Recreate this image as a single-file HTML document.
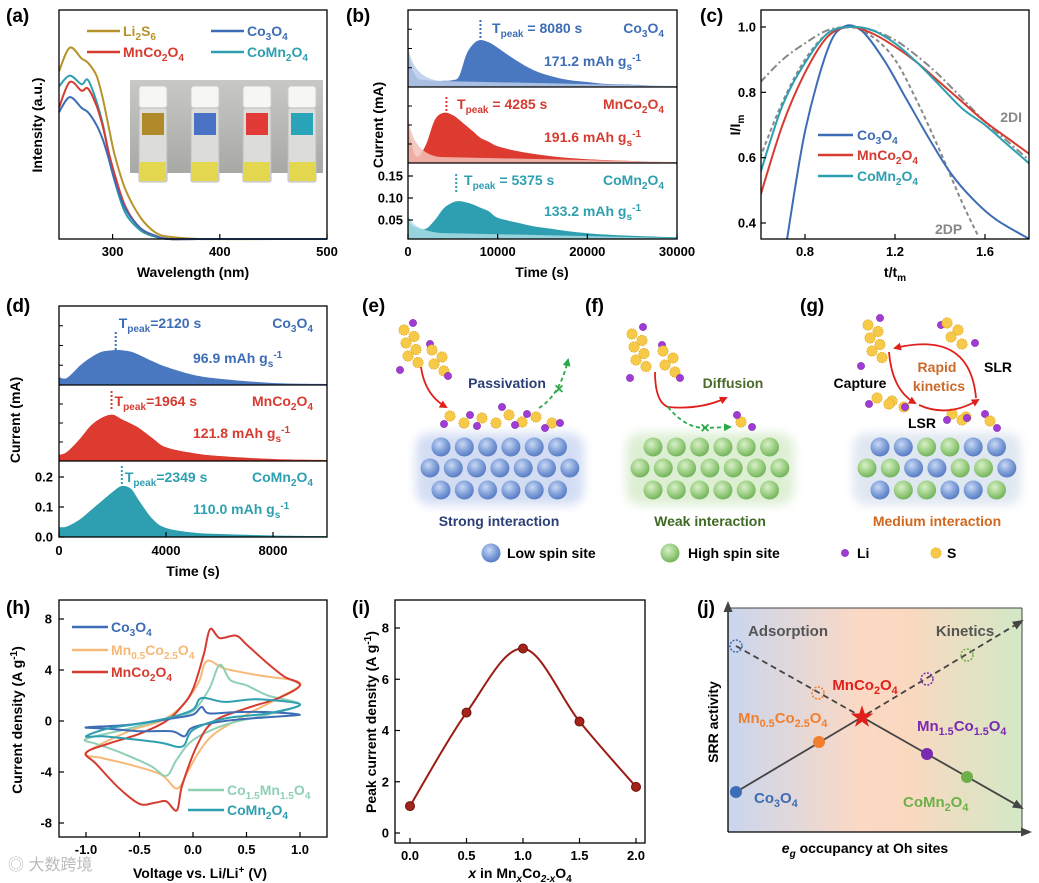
<!DOCTYPE html>
<html><head><meta charset="utf-8">
<style>
html,body{margin:0;padding:0;background:#fff;}
svg{display:block;}
</style></head>
<body>
<svg id="fig" width="1039" height="883" viewBox="0 0 1039 883" xmlns="http://www.w3.org/2000/svg">
<defs>
<radialGradient id="gBlue" cx="40%" cy="35%" r="65%"><stop offset="0" stop-color="#c9d8f5"/><stop offset="0.6" stop-color="#7f9fd8"/><stop offset="1" stop-color="#5a7cc4"/></radialGradient>
<radialGradient id="gGreen" cx="40%" cy="35%" r="65%"><stop offset="0" stop-color="#d8efc8"/><stop offset="0.6" stop-color="#9bcf83"/><stop offset="1" stop-color="#74b35c"/></radialGradient>
<filter id="blur"><feGaussianBlur stdDeviation="5"/></filter>
<linearGradient id="jbg" x1="0" x2="1" y1="0" y2="0"><stop offset="0" stop-color="#c9d6ee"/><stop offset="0.45" stop-color="#fbd9c4"/><stop offset="0.6" stop-color="#fbd8c0"/><stop offset="1" stop-color="#d3e8c6"/></linearGradient>
<linearGradient id="photo" x1="0" x2="0" y1="0" y2="1"><stop offset="0" stop-color="#c8c8c6"/><stop offset="1" stop-color="#a8a8a4"/></linearGradient>
<marker id="arrR" markerUnits="userSpaceOnUse" markerWidth="8" markerHeight="8" refX="6" refY="4" orient="auto"><path d="M0,0 L8,4 L0,8 Z" fill="#e0201b"/></marker>
<marker id="arrG" markerUnits="userSpaceOnUse" markerWidth="8" markerHeight="8" refX="6" refY="4" orient="auto"><path d="M0,0 L8,4 L0,8 Z" fill="#2aa84a"/></marker>
<marker id="arrK" markerUnits="userSpaceOnUse" markerWidth="11" markerHeight="9" refX="9" refY="4.5" orient="auto"><path d="M0,0 L11,4.5 L0,9 Z" fill="#444"/></marker>
</defs>
</svg>
<script>
// ---------------- DATA ----------------
// Panel (a) UV-vis
const aWavelengths=[250,260,271,277,285,291,296,302,312,326,340,353,381,450,500];
const aLi2S6=[0.78,0.89,0.84,0.82,0.76,0.65,0.53,0.39,0.23,0.10,0.03,0.01,0,0,0];
const aCoMn2O4=[0.71,0.76,0.72,0.74,0.64,0.53,0.41,0.27,0.12,0.04,0.01,0,0,0,0];
const aMnCo2O4=[0.61,0.73,0.69,0.70,0.62,0.52,0.41,0.30,0.15,0.05,0.015,0,0,0,0];
const aCo3O4=[0.59,0.66,0.61,0.59,0.53,0.46,0.38,0.27,0.14,0.05,0.015,0,0,0,0];
const aXTicks=[300,400,500];
// Panel (b)
const bTimes=[0,300,1000,2000,3000,4000,5000,5700,6500,7300,8080,9000,10000,12000,14000,16000,18000,20000,22000,25000,28000,30000];
const bCo3O4=[0.545,0.30,0.12,0.09,0.08,0.08,0.09,0.14,0.42,0.56,0.61,0.58,0.51,0.35,0.22,0.14,0.09,0.065,0.04,0.03,0.013,0.013];
const bMnCo2O4=[0.63,0.30,0.08,0.24,0.57,0.66,0.63,0.57,0.49,0.41,0.33,0.28,0.22,0.16,0.12,0.09,0.066,0.05,0.04,0.026,0.013,0.013];
const bCoMn2O4=[0.061,0.04,0.032,0.03,0.05,0.077,0.09,0.093,0.09,0.085,0.078,0.07,0.055,0.045,0.036,0.03,0.024,0.02,0.017,0.014,0.012,0.011];
const bXTicks=[0,10000,20000,30000];
const bYTicks=[0.05,0.10,0.15];
// Panel (c)
const cTBlue=[0.72,0.8,0.9,0.97,1.05,1.15,1.25,1.35,1.45,1.55,1.65,1.8];
const cBlue=[0.35,0.68,0.93,1.0,0.99,0.90,0.78,0.66,0.55,0.47,0.41,0.35];
const cT=[0.6,0.7,0.8,0.9,1.0,1.1,1.2,1.3,1.4,1.5,1.6,1.7,1.8];
const cRed=[0.48,0.70,0.86,0.97,1.0,0.98,0.94,0.89,0.83,0.77,0.71,0.66,0.61];
const cTeal=[0.55,0.76,0.89,0.98,1.0,0.99,0.95,0.89,0.82,0.75,0.70,0.64,0.58];
const c2DI=[0.83,0.90,0.95,0.99,1.0,0.99,0.96,0.91,0.85,0.78,0.71,0.65,0.59];
const cT2DP=[0.6,0.7,0.8,0.9,1.0,1.1,1.2,1.3,1.4,1.5,1.57];
const c2DP=[0.60,0.77,0.90,0.98,1.0,0.97,0.90,0.77,0.62,0.46,0.36];
const cXTicks=[0.8,1.2,1.6];
const cYTicks=[0.4,0.6,0.8,1.0];
// Panel (d)
const dTimes=[0,300,800,1200,1600,2000,2349,2700,3000,3500,4000,5000,6000,8000,10000];
const dCo3O4=[0.10,0.09,0.25,0.35,0.42,0.44,0.44,0.42,0.38,0.30,0.23,0.13,0.08,0.025,0.013];
const dMnCo2O4=[0.08,0.12,0.30,0.47,0.57,0.61,0.55,0.49,0.43,0.30,0.18,0.105,0.066,0.026,0.013];
const dCoMn2O4=[0.033,0.035,0.06,0.09,0.12,0.15,0.17,0.16,0.12,0.06,0.03,0.015,0.01,0.005,0.003];
const dXTicks=[0,4000,8000];
const dYTicks=[0.0,0.1,0.2];
// Panel (h) CV loops
const hMnCo2O4V=[-1,-0.8,-0.5,-0.25,-0.1,0,0.1,0.16,0.25,0.4,0.5,0.7,0.85,1.0,0.8,0.5,0.2,0.05,-0.1,-0.15,-0.25,-0.35,-0.5,-0.7,-0.9];
const hMnCo2O4I=[-2.5,-1.8,-1.0,0,1.2,2.5,5.2,7.2,6.5,6.7,6.0,4.5,3.5,2.8,1.8,1.0,0,-1.7,-5,-7,-6.3,-6.4,-6.5,-5.2,-3.4];
const hMn05V=[-1,-0.6,-0.3,-0.1,0.05,0.13,0.3,0.6,1.0,0.8,0.5,0.2,0.05,-0.05,-0.15,-0.3,-0.6,-0.85];
const hMn05I=[-2.5,-0.8,0,1.2,3,4.7,4.1,3.6,3.0,1.8,0.5,-1,-2.5,-4,-5.3,-4.2,-3.4,-2.9];
const hCo15V=[-1,-0.6,-0.2,0,0.15,0.25,0.35,0.5,0.7,1.0,0.7,0.3,0,-0.15,-0.25,-0.4,-0.7,-0.9];
const hCo15I=[-1.4,-0.6,0.3,0.8,2.5,4.4,3.2,2.8,2,1.3,0.5,-0.3,-1.5,-3,-4.3,-3.5,-2.4,-1.8];
const hCoMn2O4V=[-1,-0.8,-0.5,-0.2,0,0.08,0.3,0.6,1.0,0.7,0.3,0,-0.1,-0.3,-0.6,-0.85];
const hCoMn2O4I=[-1.2,-0.6,-0.2,0.3,0.9,1.8,1.5,1.7,1.3,0.6,0.2,-0.7,-2,-1.7,-1.4,-1.2];
const hCo3O4V=[-1,-0.6,-0.2,0,0.08,0.15,0.4,0.7,1.0,0.7,0.3,0,-0.08,-0.2,-0.5,-0.8];
const hCo3O4I=[-0.5,-0.3,0.2,0.5,1.1,0.6,0.7,0.7,0.5,0.3,0,-0.5,-1.2,-0.8,-0.8,-0.6];
const hXTicks=[-1.0,-0.5,0.0,0.5,1.0];
const hYTicks=[-8,-4,0,4,8];
// Panel (i)
const iX=[0,0.5,1.0,1.5,2.0];
const iY=[1.05,4.7,7.2,4.35,1.8];
const iXTicks=[0.0,0.5,1.0,1.5,2.0];
const iYTicks=[0,2,4,6,8];

// ---------------- HELPERS ----------------
const NS='http://www.w3.org/2000/svg';
const svg=document.getElementById('fig');
const FONT='"Liberation Sans", "Noto Sans CJK SC", Arial, sans-serif';
function mk(tag,attrs,name,parent){
  const e=document.createElementNS(NS,tag);
  for(const k in attrs) e.setAttribute(k,attrs[k]);
  
  
  (parent||svg).appendChild(e);
  return e;
}
function rich(t,s){
  const re=/([_^])\{([^}]*)\}/g; let last=0,m,pend=0;
  function add(str,dy,small){const ts=document.createElementNS(NS,'tspan'); if(dy) ts.setAttribute('dy',dy); if(small) ts.setAttribute('font-size','0.72em'); ts.textContent=str; t.appendChild(ts);}
  while((m=re.exec(s))){
    if(m.index>last){add(s.slice(last,m.index),pend,false);pend=0;}
    const d=m[1]==='_'?4:-5;
    add(m[2],d+pend,true); pend=-d;
    last=re.lastIndex;
  }
  if(last<s.length) add(s.slice(last),pend,false);
}
function txt(x,y,s,opt,name){
  const t=mk('text',Object.assign({x:x,y:y,'font-family':FONT,'font-weight':'bold','font-size':13,fill:'#000'},opt||{}),name);
  rich(t,s); return t;
}
function lin(d0,d1,r0,r1){return v=>r0+(v-d0)*(r1-r0)/(d1-d0);}
function smooth(pts,closed){
  const n=pts.length; let d='M'+pts[0][0].toFixed(1)+','+pts[0][1].toFixed(1);
  const get=i=>closed?pts[(i+n)%n]:pts[Math.max(0,Math.min(n-1,i))];
  const segs=closed?n:n-1;
  for(let i=0;i<segs;i++){
    const p0=get(i-1),p1=get(i),p2=get(i+1),p3=get(i+2);
    const c1=[p1[0]+(p2[0]-p0[0])/6,p1[1]+(p2[1]-p0[1])/6];
    const c2=[p2[0]-(p3[0]-p1[0])/6,p2[1]-(p3[1]-p1[1])/6];
    d+='C'+c1[0].toFixed(1)+','+c1[1].toFixed(1)+' '+c2[0].toFixed(1)+','+c2[1].toFixed(1)+' '+p2[0].toFixed(1)+','+p2[1].toFixed(1);
  }
  return d+(closed?'Z':'');
}
function frame(x0,y0,x1,y1,name){return mk('rect',{x:x0,y:y0,width:x1-x0,height:y1-y0,fill:'none',stroke:'#000','stroke-width':1.3},name);}
function xticks(ticks,sx,y,labelY,fmt,name){
  ticks.forEach(v=>{const x=sx(v);
    mk('line',{x1:x,x2:x,y1:y,y2:y-5,stroke:'#000','stroke-width':1.2},name+'-tick');
    txt(x,labelY,fmt(v),{'text-anchor':'middle'},name+'-label');});
}
function yticks(ticks,sy,x,labelX,fmt,name){
  ticks.forEach(v=>{const y=sy(v);
    mk('line',{x1:x,x2:x+5,y1:y,y2:y,stroke:'#000','stroke-width':1.2},name+'-tick');
    txt(labelX,y+4.5,fmt(v),{'text-anchor':'end'},name+'-label');});
}
function ytitle(x,y,s,name){txt(x,y,s,{'text-anchor':'middle','font-size':14,transform:'rotate(-90 '+x+' '+y+')'},name);}
function panelLabel(x,y,s){txt(x,y,s,{'font-size':19},'panel-label-'+s.replace(/[()]/g,''));}

// ---------------- PANEL (a) ----------------
(function(){
  const sx=lin(250,500,59,327), sy=lin(0,1,239,24);
  panelLabel(6,22,'(a)');
  const inset=mk('g',{},'vial-photo-inset');
  mk('rect',{x:130,y:80,width:193,height:93,fill:'url(#photo)'},'photo-background',inset);
  const vialX=[153,205,257,302], vialC=['#b08a2a','#4a72c4','#e23a36','#2aa4b8'];
  vialX.forEach((cx,i)=>{
    mk('rect',{x:cx-14,y:86,width:28,height:22,rx:3,fill:'#f6f6f4',stroke:'#ccc'},'vial-cap',inset);
    mk('rect',{x:cx-14,y:108,width:28,height:74,rx:2,fill:'#dcdcd8',stroke:'#bbb'},'vial-glass',inset);
    mk('rect',{x:cx-11,y:113,width:22,height:22,fill:vialC[i]},'vial-label-color',inset);
    mk('rect',{x:cx-13,y:162,width:26,height:19,fill:'#e3d640',opacity:0.9},'vial-liquid',inset);
  });
  const series=[[aLi2S6,'#b8922b','li2s6'],[aCoMn2O4,'#2e9fb0','comn2o4'],[aMnCo2O4,'#d63b30','mnco2o4'],[aCo3O4,'#3d6db5','co3o4']];
  series.forEach(s=>{const pts=aWavelengths.map((w,i)=>[sx(w),sy(s[0][i])]);
    mk('path',{d:smooth(pts),fill:'none',stroke:s[1],'stroke-width':2},'line-a-'+s[2]);});
  frame(59,10,327,239,'plot-frame-a');
  xticks(aXTicks,sx,239,256,v=>String(v),'x-tick-a');
  txt(193,277,'Wavelength (nm)',{'text-anchor':'middle','font-size':14},'x-axis-title-a');
  ytitle(42,125,'Intensity (a.u.)','y-axis-title-a');
  const leg=[[87,36,'#b8922b','Li_{2}S_{6}'],[87,57,'#d63b30','MnCo_{2}O_{4}'],[211,36,'#3d6db5','Co_{3}O_{4}'],[211,57,'#2e9fb0','CoMn_{2}O_{4}']];
  leg.forEach(l=>{mk('line',{x1:l[0],x2:l[0]+33,y1:l[1]-5,y2:l[1]-5,stroke:l[2],'stroke-width':2.5},'legend-line-a');
    txt(l[0]+36,l[1],l[3],{fill:l[2],'font-size':14},'legend-entry-a');});
})();

// ---------------- PANEL (b) ----------------
(function(){
  const sx=lin(0,30000,408,677);
  panelLabel(346,22,'(b)');
  const subs=[[10,87,bCo3O4,'#4a78c0','#b9cbe8','co3o4',null],[87,163,bMnCo2O4,'#dd3b2f','#f2c2b8','mnco2o4',null],[163,239,bCoMn2O4,'#2e9fb0','#a9dce4','comn2o4',lin(0,0.1,242,198)]];
  subs.forEach(s=>{
    const sy=s[6]||lin(0,1,s[1],s[0]);
    const pts=bTimes.map((t,i)=>[sx(t),sy(s[2][i])]);
    const d=smooth(pts)+'L'+sx(30000)+','+s[1]+'L'+sx(0)+','+s[1]+'Z';
    mk('path',{d:d,fill:s[3]},'area-b-'+s[5]);
    const y0=sy(s[2][0]);
    mk('path',{d:'M408,'+y0+' Q412,'+(s[1]-9)+' 440,'+(s[1]-6)+' L677,'+(s[1]-1)+' L677,'+s[1]+' L408,'+s[1]+'Z',fill:s[4],opacity:0.85},'baseline-band-b');
    [0.25,0.5,0.75].forEach(f=>{if(!s[6]) mk('line',{x1:408,x2:412,y1:s[1]-(s[1]-s[0])*f,y2:s[1]-(s[1]-s[0])*f,stroke:'#000'},'minor-tick-b');});
  });
  mk('line',{x1:408,x2:677,y1:87,y2:87,stroke:'#000','stroke-width':1.2},'divider-b');
  mk('line',{x1:408,x2:677,y1:163,y2:163,stroke:'#000','stroke-width':1.2},'divider-b');
  frame(408,10,677,239,'plot-frame-b');
  const syB=lin(0,0.1,242,198);
  yticks(bYTicks,syB,408,403,v=>v.toFixed(2),'y-tick-b');
  xticks(bXTicks,sx,239,256,v=>String(v),'x-tick-b');
  txt(542,277,'Time (s)',{'text-anchor':'middle','font-size':14},'x-axis-title-b');
  ytitle(383,125,'Current (mA)','y-axis-title-b');
  const ann=[[8080,20,'#3d6db5','T_{peak} = 8080 s','Co_{3}O_{4}','171.2 mAh g_{s}^{-1}',33,66,492],[4285,97,'#d63b30','T_{peak} = 4285 s','MnCo_{2}O_{4}','191.6 mAh g_{s}^{-1}',109,142,457],[5375,174,'#2e9fb0','T_{peak} = 5375 s','CoMn_{2}O_{4}','133.2 mAh g_{s}^{-1}',185,216,464]];
  ann.forEach(a=>{const x=sx(a[0]);
    mk('line',{x1:x,x2:x,y1:a[1],y2:a[1]+18,stroke:a[2],'stroke-width':2,'stroke-dasharray':'2,2'},'peak-marker-b');
    txt(a[8],a[6],a[3],{fill:a[2],'font-size':14},'peak-time-label-b');
    txt(664,a[6],a[4],{fill:a[2],'font-size':14,'text-anchor':'end'},'sample-label-b');
    txt(544,a[7],a[5],{fill:a[2],'font-size':14},'capacity-label-b');});
})();

// ---------------- PANEL (c) ----------------
(function(){
  const sx=lin(0.8,1.6,805,985), sy=lin(0.4,1.0,223,27);
  panelLabel(700,22,'(c)');
  const cp=mk('clipPath',{id:'clipc'},'clip-c'); mk('rect',{x:761,y:10,width:268,height:229},'clip-rect-c',cp);
  const g=mk('g',{'clip-path':'url(#clipc)'},'curves-c');
  mk('path',{d:smooth(cT.map((t,i)=>[sx(t),sy(c2DI[i])])),fill:'none',stroke:'#888','stroke-width':2,'stroke-dasharray':'8,3,2,3'},'line-c-2di',g);
  mk('path',{d:smooth(cT2DP.map((t,i)=>[sx(t),sy(c2DP[i])])),fill:'none',stroke:'#888','stroke-width':2,'stroke-dasharray':'4,3'},'line-c-2dp',g);
  mk('path',{d:smooth(cTBlue.map((t,i)=>[sx(t),sy(cBlue[i])])),fill:'none',stroke:'#3d6db5','stroke-width':2},'line-c-co3o4',g);
  mk('path',{d:smooth(cT.map((t,i)=>[sx(t),sy(cRed[i])])),fill:'none',stroke:'#d63b30','stroke-width':2},'line-c-mnco2o4',g);
  mk('path',{d:smooth(cT.map((t,i)=>[sx(t),sy(cTeal[i])])),fill:'none',stroke:'#2e9fb0','stroke-width':2},'line-c-comn2o4',g);
  frame(761,10,1029,239,'plot-frame-c');
  yticks(cYTicks,sy,761,756,v=>v.toFixed(1),'y-tick-c');
  xticks(cXTicks,sx,239,256,v=>v.toFixed(1),'x-tick-c');
  txt(895,277,'t/t_{m}',{'text-anchor':'middle','font-size':14},'x-axis-title-c');
  ytitle(740,125,'I/I_{m}','y-axis-title-c');
  txt(1022,122,'2DI',{fill:'#888','font-size':14,'text-anchor':'end'},'label-2di');
  txt(935,234,'2DP',{fill:'#888','font-size':14},'label-2dp');
  [[140,'#3d6db5','Co_{3}O_{4}'],[160,'#d63b30','MnCo_{2}O_{4}'],[181,'#2e9fb0','CoMn_{2}O_{4}']].forEach(l=>{
    mk('line',{x1:818,x2:853,y1:l[0]-5,y2:l[0]-5,stroke:l[1],'stroke-width':2.5},'legend-line-c');
    txt(857,l[0],l[2],{fill:l[1],'font-size':14},'legend-entry-c');});
})();

// ---------------- PANEL (d) ----------------
(function(){
  const sx=lin(0,8000,59,273);
  panelLabel(6,312,'(d)');
  const subs=[[306,385,dCo3O4,'#4a78c0','co3o4',null],[385,461,dMnCo2O4,'#dd3b2f','mnco2o4',null],[461,537,dCoMn2O4,'#2e9fb0','comn2o4',lin(0,0.1,537,507)]];
  subs.forEach(s=>{
    const sy=s[5]||lin(0,1,s[1],s[0]);
    const pts=dTimes.map((t,i)=>[sx(t),sy(s[2][i])]);
    const d=smooth(pts)+'L'+sx(10000)+','+s[1]+'L'+sx(0)+','+s[1]+'Z';
    mk('path',{d:d,fill:s[3]},'area-d-'+s[4]);
    [0.25,0.5,0.75].forEach(f=>{if(!s[5]) mk('line',{x1:59,x2:63,y1:s[1]-(s[1]-s[0])*f,y2:s[1]-(s[1]-s[0])*f,stroke:'#000'},'minor-tick-d');});
  });
  mk('line',{x1:59,x2:327,y1:385,y2:385,stroke:'#000','stroke-width':1.2},'divider-d');
  mk('line',{x1:59,x2:327,y1:461,y2:461,stroke:'#000','stroke-width':1.2},'divider-d');
  frame(59,306,327,537,'plot-frame-d');
  yticks(dYTicks,lin(0,0.1,537,507),59,53,v=>v.toFixed(1),'y-tick-d');
  xticks(dXTicks,sx,537,555,v=>String(v),'x-tick-d');
  txt(193,576,'Time (s)',{'text-anchor':'middle','font-size':14},'x-axis-title-d');
  ytitle(20,420,'Current (mA)','y-axis-title-d');
  const ann=[[2120,332,'#3d6db5','T_{peak}=2120 s','Co_{3}O_{4}','96.9 mAh g_{s}^{-1}',328,363],[1964,391,'#d63b30','T_{peak}=1964 s','MnCo_{2}O_{4}','121.8 mAh g_{s}^{-1}',406,438],[2349,466,'#2e9fb0','T_{peak}=2349 s','CoMn_{2}O_{4}','110.0 mAh g_{s}^{-1}',482,514]];
  ann.forEach(a=>{const x=sx(a[0]);
    mk('line',{x1:x,x2:x,y1:a[1],y2:a[1]+20,stroke:a[2],'stroke-width':2,'stroke-dasharray':'2,2'},'peak-marker-d');
    txt(x+3,a[6],a[3],{fill:a[2],'font-size':14},'peak-time-label-d');
    txt(313,a[6],a[4],{fill:a[2],'font-size':14,'text-anchor':'end'},'sample-label-d');
    txt(193,a[7],a[5],{fill:a[2],'font-size':14},'capacity-label-d');});
})();

// ---------------- PANELS (e)(f)(g) ----------------
(function(){
  panelLabel(362,312,'(e)'); panelLabel(585,312,'(f)'); panelLabel(800,312,'(g)');
  function sphere(x,y,blue,name){mk('circle',{cx:x,cy:y,r:9.5,fill:blue?'url(#gBlue)':'url(#gGreen)'},name);}
  function lattice(r1x0,r2x0,pattern,glow,name){
    mk('rect',{x:r2x0-14,y:433,width:6*23.3+28,height:72,rx:14,fill:glow,opacity:0.45,filter:'url(#blur)'},name+'-glow');
    const rows=[[r1x0,447,6],[r2x0,468,7],[r1x0,490,6]]; let k=0;
    rows.forEach(r=>{for(let i=0;i<r[2];i++){sphere(r[0]+i*23.3,r[1],pattern[k++],name+'-atom');}});
  }
  const B=1,G=0;
  lattice(441,430,[B,B,B,B,B,B,B,B,B,B,B,B,B,B,B,B,B,B,B],'#9db5e6','lattice-e');
  lattice(653,640,[G,G,G,G,G,G,G,G,G,G,G,G,G,G,G,G,G,G,G],'#b5dca0','lattice-f');
  lattice(880,867,[B,B,G,G,B,B,G,G,B,B,G,G,B,B,G,G,B,B,G],'#b9cbe0','lattice-g');
  function S(x,y,p){mk('circle',{cx:x,cy:y,r:5.2,fill:'#f7c948',stroke:'#e0a820','stroke-width':0.8,'stroke-dasharray':'1.5,1'},'sulfur-atom',p);}
  function L(x,y,p){mk('circle',{cx:x,cy:y,r:3.6,fill:'#a23ad6',stroke:'#7a2aa8','stroke-width':0.6},'lithium-atom',p);}
  function chain(x,y,n,dx,dy,p){for(let i=0;i<n;i++){S(x+(i%2)*9+i*dx,y+i*dy,p);}}
  let g=mk('g',{},'polysulfide-cluster-e');
  L(413,323,g); chain(404,330,6,1,6.5,g); L(400,370,g);
  L(430,344,g); chain(432,350,4,1,7,g); L(448,376,g);
  g=mk('g',{},'adsorbed-layer-e');
  [[450,416],[464,423],[482,418],[496,423],[509,415],[522,422],[536,417],[552,423]].forEach(p=>S(p[0],p[1],g));
  [[444,424],[470,415],[477,426],[502,407],[515,425],[527,414],[545,428],[560,423]].forEach(p=>L(p[0],p[1],g));
  mk('path',{d:'M421,367 Q425,395 446,407',fill:'none',stroke:'#e0201b','stroke-width':1.8,'marker-end':'url(#arrR)'},'arrow-adsorb-e');
  mk('path',{d:'M539,408 Q560,395 568,360',fill:'none',stroke:'#2aa84a','stroke-width':1.8,'stroke-dasharray':'4,3','marker-end':'url(#arrG)'},'arrow-blocked-e');
  txt(559,394,'×',{fill:'#2aa84a','font-size':16,'text-anchor':'middle'},'block-mark-e');
  txt(507,388,'Passivation',{fill:'#2b3f77','font-size':14,'text-anchor':'middle'},'label-passivation');
  g=mk('g',{},'polysulfide-cluster-f');
  L(643,327,g); chain(632,334,6,1,6.5,g); L(630,378,g);
  L(662,345,g); chain(663,351,4,1,7,g); L(680,378,g);
  S(741,422,g); L(737,415,g); L(752,427,g);
  mk('path',{d:'M655,372 Q655,402 668,407 Q700,410 726,398',fill:'none',stroke:'#e0201b','stroke-width':1.8,'marker-end':'url(#arrR)'},'arrow-diffusion-f');
  mk('path',{d:'M668,407 Q685,428 705,428 L730,427',fill:'none',stroke:'#2aa84a','stroke-width':1.8,'stroke-dasharray':'4,3','marker-end':'url(#arrG)'},'arrow-blocked-f');
  txt(705,433,'×',{fill:'#2aa84a','font-size':16,'text-anchor':'middle'},'block-mark-f');
  txt(733,388,'Diffusion',{fill:'#4a6b2a','font-size':14,'text-anchor':'middle'},'label-diffusion');
  g=mk('g',{},'polysulfide-cluster-g');
  L(880,318,g); chain(868,325,6,1,6.5,g); L(861,366,g);
  L(941,325,g); chain(947,323,4,2,7,g); L(975,343,g);
  L(869,404,g); chain(877,398,4,6,3,g); L(905,407,g);
  chain(952,414,3,5,3,g); L(947,420,g); L(967,418,g); L(985,414,g); S(990,421,g); L(997,428,g);
  mk('path',{d:'M976,398 Q970,330 895,348',fill:'none',stroke:'#e0201b','stroke-width':1.8,'marker-end':'url(#arrR)'},'arrow-slr-g');
  mk('path',{d:'M889,352 Q892,390 915,403',fill:'none',stroke:'#e0201b','stroke-width':1.8,'marker-end':'url(#arrR)'},'arrow-capture-g');
  mk('path',{d:'M919,405 Q948,418 978,400',fill:'none',stroke:'#e0201b','stroke-width':1.8,'marker-end':'url(#arrR)'},'arrow-lsr-g');
  txt(860,388,'Capture',{'font-size':14,'text-anchor':'middle'},'label-capture');
  txt(937,372,'Rapid',{fill:'#cc6a2a','font-size':14,'text-anchor':'middle'},'label-rapid');
  txt(939,391,'kinetics',{fill:'#cc6a2a','font-size':14,'text-anchor':'middle'},'label-kinetics');
  txt(998,372,'SLR',{'font-size':14,'text-anchor':'middle'},'label-slr');
  txt(922,428,'LSR',{'font-size':14,'text-anchor':'middle'},'label-lsr');
  txt(499,526,'Strong interaction',{fill:'#2b3f77','font-size':14,'text-anchor':'middle'},'label-strong-interaction');
  txt(710,526,'Weak interaction',{fill:'#3f6a24','font-size':14,'text-anchor':'middle'},'label-weak-interaction');
  txt(937,526,'Medium interaction',{fill:'#d0671e','font-size':14,'text-anchor':'middle'},'label-medium-interaction');
  sphere(491,553,1,'legend-low-spin-icon'); txt(507,558,'Low spin site',{'font-size':14},'legend-low-spin');
  sphere(670,553,0,'legend-high-spin-icon'); txt(688,558,'High spin site',{'font-size':14},'legend-high-spin');
  L(845,553); txt(857,558,'Li',{'font-size':14},'legend-li');
  S(936,553); txt(947,558,'S',{'font-size':14},'legend-s');
})();

// ---------------- PANEL (h) ----------------
(function(){
  const sx=lin(-1,1,86,300), sy=lin(0,4,721,670);
  panelLabel(6,614,'(h)');
  const loops=[[hMn05V,hMn05I,'#f7b978','mn05co25o4'],[hCo15V,hCo15I,'#8fd0b5','co15mn15o4'],[hMnCo2O4V,hMnCo2O4I,'#d63b30','mnco2o4'],[hCo3O4V,hCo3O4I,'#3d6db5','co3o4'],[hCoMn2O4V,hCoMn2O4I,'#2e9fb0','comn2o4']];
  loops.forEach(l=>{const pts=l[0].map((v,i)=>[sx(v),sy(l[1][i])]);
    mk('path',{d:smooth(pts,true),fill:'none',stroke:l[2],'stroke-width':2},'cv-loop-'+l[3]);});
  frame(59,600,327,837,'plot-frame-h');
  yticks(hYTicks,sy,59,52,v=>String(v),'y-tick-h');
  xticks(hXTicks,sx,837,854,v=>v.toFixed(1),'x-tick-h');
  txt(200,878,'Voltage vs. Li/Li^{+} (V)',{'text-anchor':'middle','font-size':14},'x-axis-title-h');
  ytitle(22,720,'Current density (A g^{-1})','y-axis-title-h');
  [[72,632,'#3d6db5','Co_{3}O_{4}'],[72,655,'#f7b978','Mn_{0.5}Co_{2.5}O_{4}'],[72,677,'#d63b30','MnCo_{2}O_{4}'],[188,795,'#8fd0b5','Co_{1.5}Mn_{1.5}O_{4}'],[188,815,'#2e9fb0','CoMn_{2}O_{4}']].forEach(l=>{
    mk('line',{x1:l[0],x2:l[0]+36,y1:l[1]-5,y2:l[1]-5,stroke:l[2],'stroke-width':2.5},'legend-line-h');
    txt(l[0]+39,l[1],l[3],{fill:l[2],'font-size':14},'legend-entry-h');});
})();

// ---------------- PANEL (i) ----------------
(function(){
  const sx=lin(0,2,410,636), sy=lin(0,8,833,628);
  panelLabel(352,614,'(i)');
  const pts=iX.map((x,i)=>[sx(x),sy(iY[i])]);
  mk('path',{d:smooth(pts),fill:'none',stroke:'#9a1c14','stroke-width':2},'line-i');
  pts.forEach(p=>mk('circle',{cx:p[0],cy:p[1],r:4.5,fill:'#a3241a',stroke:'#6e120c'},'point-i'));
  frame(395,600,645,843,'plot-frame-i');
  yticks(iYTicks,sy,395,389,v=>String(v),'y-tick-i');
  xticks(iXTicks,sx,843,860,v=>v.toFixed(1),'x-tick-i');
  const t=txt(520,878,'',{'text-anchor':'middle','font-size':14},'x-axis-title-i');
  const parts=[['x','italic',0],[' in Mn','normal',0],['x','italic',4],['Co','normal',-4],['2-x','italic',4],['O','normal',-4],['4','normal',4]];
  parts.forEach(p=>{const ts=document.createElementNS(NS,'tspan'); ts.setAttribute('font-style',p[1]==='italic'?'italic':'normal'); if(p[2]) ts.setAttribute('dy',p[2]); if(p[2]>0) ts.setAttribute('font-size','10'); ts.textContent=p[0]; t.appendChild(ts);});
  ytitle(376,722,'Peak current density (A g^{-1})','y-axis-title-i');
})();

// ---------------- PANEL (j) ----------------
(function(){
  panelLabel(697,614,'(j)');
  mk('rect',{x:728,y:608,width:294,height:224,fill:'url(#jbg)'},'gradient-background-j');
  mk('line',{x1:728,y1:832,x2:728,y2:603,stroke:'#000','stroke-width':1.3,'marker-end':'url(#arrK)'},'y-axis-j');
  mk('line',{x1:728,y1:832,x2:1030,y2:832,stroke:'#000','stroke-width':1.3,'marker-end':'url(#arrK)'},'x-axis-j');
  mk('line',{x1:1022,y1:608,x2:1022,y2:832,stroke:'#444','stroke-width':1},'right-edge-j');
  mk('line',{x1:728,y1:608,x2:1022,y2:608,stroke:'#444','stroke-width':1},'top-edge-j');
  mk('path',{d:'M736,646 L862,717 L1022,621',fill:'none',stroke:'#444','stroke-width':1.8,'stroke-dasharray':'6,4','marker-end':'url(#arrK)'},'adsorption-kinetics-line');
  mk('path',{d:'M736,792 L862,717 L1022,808',fill:'none',stroke:'#444','stroke-width':1.8,'marker-end':'url(#arrK)'},'activity-line');
  [[736,646,'#3d6db5'],[818,693,'#f07f2e'],[927,679,'#7a2ab0'],[967,655,'#6db04a']].forEach(c=>mk('circle',{cx:c[0],cy:c[1],r:6,fill:'none',stroke:c[2],'stroke-width':1.5,'stroke-dasharray':'2,1.5'},'dotted-marker-j'));
  [[736,792,'#3d6db5'],[819,742,'#f07f2e'],[927,754,'#7a2ab0'],[967,777,'#6db04a']].forEach(c=>mk('circle',{cx:c[0],cy:c[1],r:6,fill:c[2]},'activity-point-j'));
  txt(862,725,'★',{fill:'#e0201b','font-size':24,'text-anchor':'middle'},'star-mnco2o4');
  txt(788,636,'Adsorption',{fill:'#555','font-size':15,'text-anchor':'middle'},'label-adsorption');
  txt(965,636,'Kinetics',{fill:'#555','font-size':15,'text-anchor':'middle'},'label-kinetics-j');
  txt(865,690,'MnCo_{2}O_{4}',{fill:'#e0201b','font-size':15,'text-anchor':'middle'},'label-mnco2o4-j');
  txt(738,723,'Mn_{0.5}Co_{2.5}O_{4}',{fill:'#f07f2e','font-size':15},'label-mn05-j');
  txt(917,731,'Mn_{1.5}Co_{1.5}O_{4}',{fill:'#7a2ab0','font-size':15},'label-mn15-j');
  txt(754,803,'Co_{3}O_{4}',{fill:'#3d6db5','font-size':15},'label-co3o4-j');
  txt(903,807,'CoMn_{2}O_{4}',{fill:'#6db04a','font-size':15},'label-comn2o4-j');
  ytitle(718,722,'SRR activity','y-axis-title-j');
  const t=txt(865,853,'',{'text-anchor':'middle','font-size':14},'x-axis-title-j');
  [['e','italic',0,null],['g','italic',4,'10'],[' occupancy at Oh sites','normal',-4,null]].forEach(p=>{const ts=document.createElementNS(NS,'tspan'); ts.setAttribute('font-style',p[1]); if(p[2]) ts.setAttribute('dy',p[2]); if(p[3]) ts.setAttribute('font-size',p[3]); ts.textContent=p[0]; t.appendChild(ts);});
})();

txt(8,870,'◎ 大数跨境',{fill:'#bbb','font-size':16,'font-weight':'normal'},'watermark');
</script>
</body></html>
